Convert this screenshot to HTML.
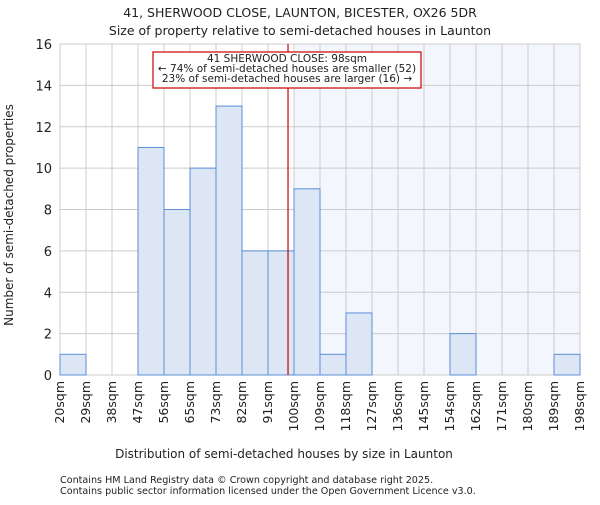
<!DOCTYPE html>
<html><head><meta charset="utf-8"><style>
body{margin:0;background:#fff;}
svg text{font-family:"DejaVu Sans","Liberation Sans",sans-serif;fill:#222;}
</style></head><body>
<svg width="600" height="500">
<text x="300" y="17" font-size="12.5" text-anchor="middle">41, SHERWOOD CLOSE, LAUNTON, BICESTER, OX26 5DR</text>
<text x="300" y="35" font-size="12.5" text-anchor="middle">Size of property relative to semi-detached houses in Launton</text>
<g id="plot"></g>
<text x="284" y="458" font-size="12" text-anchor="middle">Distribution of semi-detached houses by size in Launton</text>
<text transform="translate(13,215) rotate(-90)" font-size="12" text-anchor="middle">Number of semi-detached properties</text>
<text x="60" y="483" font-size="9.6">Contains HM Land Registry data © Crown copyright and database right 2025.</text>
<text x="60" y="494" font-size="9.6">Contains public sector information licensed under the Open Government Licence v3.0.</text>
</svg>
<script>
const binLabels=["20sqm","29sqm","38sqm","47sqm","56sqm","65sqm","73sqm","82sqm","91sqm","100sqm","109sqm","118sqm","127sqm","136sqm","145sqm","154sqm","162sqm","171sqm","180sqm","189sqm","198sqm"];
const counts=[1,0,0,11,8,10,13,6,6,9,1,3,0,0,0,2,0,0,0,1];
const yTicks=[0,2,4,6,8,10,12,14,16];
const markerBin=8.77;
const NS="http://www.w3.org/2000/svg";
const g=document.getElementById('plot');
const L=60,R=580,T=44,B=375,yMax=16;
const n=counts.length,bw=(R-L)/n;
const X=i=>L+i*bw, Y=v=>B-(v/yMax)*(B-T);
function mk(t,a){const e=document.createElementNS(NS,t);for(const k in a)e.setAttribute(k,a[k]);g.appendChild(e);return e;}
const bg=mk('rect',{x:L,y:T,width:R-L,height:B-T,fill:'#fff'});


const mx=X(markerBin);
const sh=mk('rect',{x:X(Math.ceil(markerBin)),y:T,width:R-X(Math.ceil(markerBin)),height:B-T,fill:'#f3f6fc'});


yTicks.forEach(v=>{const l=mk('line',{x1:L,x2:R,y1:Y(v),y2:Y(v),stroke:'#ccc'});


const t=mk('text',{x:L-8,y:Y(v)+5,'font-size':13,'text-anchor':'end'});t.textContent=v;

});
binLabels.forEach((s,i)=>{const l=mk('line',{x1:X(i),x2:X(i),y1:T,y2:B,stroke:'#ccc'});


const t=mk('text',{'font-size':12.5,'text-anchor':'end',transform:`translate(${X(i)+4},${B+6}) rotate(-90)`});t.textContent=s;

});
counts.forEach((c,i)=>{if(!c)return;const r=mk('rect',{x:X(i),y:Y(c),width:bw,height:B-Y(c),fill:'#dce6f5',stroke:'#5b8fd6','stroke-width':1});

});
const ml=mk('line',{x1:mx,x2:mx,y1:T,y2:B,stroke:'#cc0000','stroke-width':1.2});


const box=mk('rect',{x:153,y:52,width:268,height:36,fill:'#fff',stroke:'#cc0000','stroke-width':1.2});


["41 SHERWOOD CLOSE: 98sqm","← 74% of semi-detached houses are smaller (52)","23% of semi-detached houses are larger (16) →"].forEach((s,k)=>{const t=mk('text',{x:287,y:62+k*10,'font-size':10.5,'text-anchor':'middle'});t.textContent=s;

});
</script>
</body></html>
